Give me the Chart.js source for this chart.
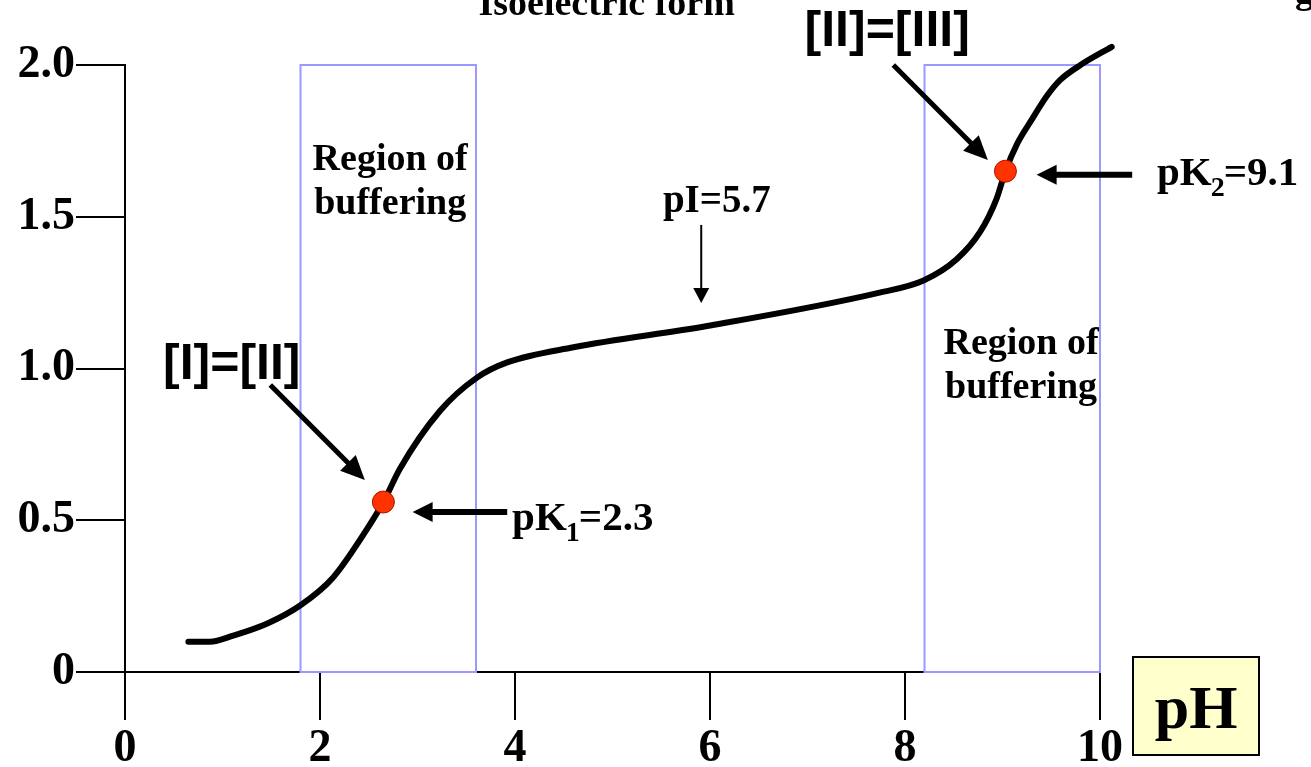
<!DOCTYPE html>
<html>
<head>
<meta charset="utf-8">
<script src="https://cdn.jsdelivr.net/npm/chart.js@4/dist/chart.umd.min.js"></script>
<style>
html,body{margin:0;padding:0;background:#fff;overflow:hidden}
canvas{display:block}
</style>
</head>
<body>
<canvas id="chart" width="1311" height="767"></canvas>
<script>
/* ===== data ===== */
const phValues     = [0.65,0.87,1.11,1.46,1.80,2.13,2.48,2.65,2.82,3.23,3.61,3.92,4.60,5.97,7.74,8.19,8.53,8.77,8.94,9.03,9.15,9.30,9.46,9.59,9.80,10.12];
const chargeValues = [0.10,0.10,0.12,0.16,0.22,0.31,0.47,0.56,0.67,0.86,0.97,1.02,1.07,1.14,1.25,1.29,1.36,1.45,1.56,1.65,1.74,1.82,1.90,1.95,2.00,2.06];
const pkPh     = [2.65, 9.03];
const pkCharge = [0.56, 1.65];
const bufferRegions = [[1.8, 3.6], [8.2, 10.0]];
const xTickValues = [0, 2, 4, 6, 8, 10];
const yTickLabels = ["0", "0.5", "1.0", "1.5", "2.0"];

/* ===== helpers ===== */
const $ = id => document.getElementById(id);
const SERIF = '"Liberation Serif","Times New Roman",serif';
const SANS = '"Liberation Sans",Arial,sans-serif';

function arrow(ctx, x1, y1, x2, y2, w, hl, hw){
    const a = Math.atan2(y2-y1, x2-x1), c = Math.cos(a), s = Math.sin(a);
    const bx = x2 - c*hl, by = y2 - s*hl;
    ctx.save();
    ctx.strokeStyle = "#000"; ctx.fillStyle = "#000"; ctx.lineWidth = w; ctx.lineCap = "butt";
    ctx.beginPath(); ctx.moveTo(x1, y1); ctx.lineTo(bx + c, by + s); ctx.stroke();
    ctx.beginPath(); ctx.moveTo(x2, y2); ctx.lineTo(bx - s*hw, by + c*hw); ctx.lineTo(bx + s*hw, by - c*hw);
    ctx.closePath(); ctx.fill();
    ctx.restore();
}
function text(ctx, str, x, y, font, align){
    ctx.save();
    ctx.font = font; ctx.fillStyle = "#000"; ctx.textAlign = align || "center"; ctx.textBaseline = "alphabetic";
    ctx.fillText(str, x, y);
    ctx.restore();
}
// "pK" + subscript + rest, left aligned
function subText(ctx, a, sub, b, x, y){
    ctx.save();
    ctx.fillStyle = "#000"; ctx.textAlign = "left"; ctx.textBaseline = "alphabetic";
    ctx.font = "bold 41px " + SERIF; ctx.fillText(a, x, y);
    let w = ctx.measureText(a).width;
    ctx.font = "bold 28px " + SERIF; ctx.fillText(sub, x + w - 1, y + 11);
    w += ctx.measureText(sub).width - 2;
    ctx.font = "bold 41px " + SERIF; ctx.fillText(b, x + w, y);
    ctx.restore();
}

/* ===== annotation plugin ===== */
const decor = {
    id: "decor",
    beforeDatasetsDraw(chart){
        const {ctx, scales:{x, y}} = chart;
        ctx.save();
        ctx.strokeStyle = "#9999ff"; ctx.lineWidth = 2;
        bufferRegions.forEach(([a, b]) => {
            const l = x.getPixelForValue(a), r = x.getPixelForValue(b);
            const t = y.getPixelForValue(2), btm = y.getPixelForValue(0);
            ctx.strokeRect(l, t, r - l, btm - t);
        });
        ctx.restore();
    },
    afterDatasetsDraw(chart){
        const {ctx, scales:{x, y}} = chart;
        const px = v => x.getPixelForValue(v), py = v => y.getPixelForValue(v);

        // arrows
        arrow(ctx, px(1.49), py(0.946), px(2.46), py(0.633), 5, 24, 11);
        arrow(ctx, px(3.92), py(0.527), px(2.95), py(0.527), 6, 20, 10);
        arrow(ctx, px(7.88), py(2.0),   px(8.85), py(1.687), 5, 24, 11);
        arrow(ctx, px(10.33), py(1.638), px(9.35), py(1.638), 6, 20, 10);
        arrow(ctx, px(5.91), py(1.473), px(5.91), py(1.216), 2, 15, 8);

        // labels
        const f = "bold 38px " + SERIF;
        text(ctx, "Isoelectric form", px(4.94), py(2.165), f);
        text(ctx, "g", px(12.0), py(2.204), f, "left");
        text(ctx, "Region of", px(2.72), py(1.654), f);
        text(ctx, "buffering", px(2.72), py(1.508), f);
        text(ctx, "Region of", px(9.19), py(1.048), f);
        text(ctx, "buffering", px(9.19), py(0.903), f);
        text(ctx, "pI=5.7", px(6.07), py(1.516), "bold 39px " + SERIF);
        subText(ctx, "pK", "1", "=2.3", px(3.97), py(0.468));
        subText(ctx, "pK", "2", "=9.1", px(10.585), py(1.605));
        text(ctx, "[I]=[II]", px(0.39), py(0.965), "bold 50px " + SANS, "left");
        text(ctx, "[II]=[III]", px(6.97), py(2.062), "bold 50px " + SANS, "left");

        // pH axis title box
        const bx = chart.chartArea.right + 33, by = chart.chartArea.bottom - 15;
        ctx.save();
        ctx.fillStyle = "#ffffcc"; ctx.strokeStyle = "#000"; ctx.lineWidth = 2;
        ctx.fillRect(bx, by, 126, 98); ctx.strokeRect(bx, by, 126, 98);
        ctx.restore();
        text(ctx, "pH", bx + 63, by + 71, "bold 62px " + SERIF);
    }
};

/* ===== chart ===== */
const axisFont = {family: SERIF, size: 46, weight: "bold"};
new Chart($("chart").getContext("2d"), {
    type: "line",
    data: {
        datasets: [
            {
                label: "pK",
                type: "scatter",
                data: pkPh.map((v, i) => ({x: v, y: pkCharge[i]})),
                backgroundColor: "#ff3300",
                borderColor: "#aa1100",
                borderWidth: 1,
                pointRadius: 11,
                pointHoverRadius: 11,
                order: 0,
                clip: false
            },
            {
                label: "Titration curve",
                data: phValues.map((v, i) => ({x: v, y: chargeValues[i]})),
                borderColor: "#000",
                borderWidth: 6,
                borderCapStyle: "round",
                borderJoinStyle: "round",
                cubicInterpolationMode: "monotone",
                pointRadius: 0,
                fill: false,
                order: 1,
                clip: false
            }
        ]
    },
    options: {
        responsive: false,
        animation: false,
        devicePixelRatio: 1,
        layout: {padding: {top: 65, right: 211, left: 0, bottom: 0}},
        plugins: {legend: {display: false}, tooltip: {enabled: false}},
        scales: {
            x: {
                type: "linear", min: 0, max: 10,
                afterBuildTicks: s => { s.ticks = xTickValues.map(v => ({value: v})); },
                afterFit: s => { s.height = 95; },
                ticks: {color: "#000", font: axisFont, padding: 2, maxRotation: 0, autoSkip: false},
                grid: {drawOnChartArea: false, drawTicks: true, tickLength: 48, color: "#000", lineWidth: 2},
                border: {color: "#000", width: 2}
            },
            y: {
                type: "linear", min: 0, max: 2,
                ticks: {stepSize: 0.5, color: "#000", font: axisFont, padding: 1,
                    callback: (v, i) => yTickLabels[i]},
                afterFit: s => { s.width = 125; },
                grid: {drawOnChartArea: false, drawTicks: true, tickLength: 49, color: "#000", lineWidth: 2},
                border: {color: "#000", width: 2}
            }
        }
    },
    plugins: [decor]
});
</script>
</body>
</html>
